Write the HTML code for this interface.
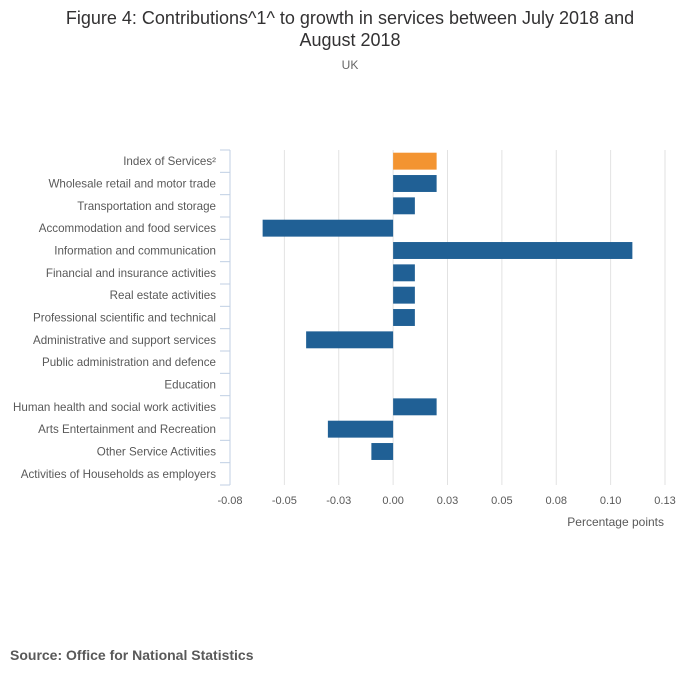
<!DOCTYPE html>
<html><head><meta charset="utf-8"><style>
body{margin:0;background:#fff;font-family:"Liberation Sans","DejaVu Sans",sans-serif;}
svg text{font-family:"Liberation Sans","DejaVu Sans",sans-serif;}
</style></head><body>
<svg id="c" width="700" height="682">
<text x="350" y="24" text-anchor="middle" font-size="18" fill="#323132">Figure 4: Contributions^1^ to growth in services between July 2018 and</text>
<text x="350" y="46" text-anchor="middle" font-size="18" fill="#323132">August 2018</text>
<text x="350" y="69" text-anchor="middle" font-size="12" fill="#666">UK</text>
<text x="664" y="526" text-anchor="end" font-size="12" fill="#595959">Percentage points</text>
<text x="10" y="660" font-size="14" font-weight="bold" fill="#595959">Source: Office for National Statistics</text>
<g id="plot"></g>
</svg>
<script>
const categories=["Index of Services²","Wholesale retail and motor trade","Transportation and storage","Accommodation and food services","Information and communication","Financial and insurance activities","Real estate activities","Professional scientific and technical","Administrative and support services","Public administration and defence","Education","Human health and social work activities","Arts Entertainment and Recreation","Other Service Activities","Activities of Households as employers"];
const values=[0.02,0.02,0.01,-0.06,0.11,0.01,0.01,0.01,-0.04,0,0,0.02,-0.03,-0.01,0];
const ticks=[-0.075,-0.05,-0.025,0,0.025,0.05,0.075,0.1,0.125];
const tickLabels=["-0.08","-0.05","-0.03","0.00","0.03","0.05","0.08","0.10","0.13"];
const NS="http://www.w3.org/2000/svg";
const g=document.getElementById('plot');
const x0=230,x1=665,dmin=-0.075,dmax=0.125,yTop=150,yBot=485;
const xs=v=>x0+(v-dmin)/(dmax-dmin)*(x1-x0);
const rh=(yBot-yTop)/categories.length;
const ys=i=>yTop+i*rh;
function el(t,a){const e=document.createElementNS(NS,t);for(const k in a)e.setAttribute(k,a[k]);g.appendChild(e);return e;}
ticks.forEach((t,i)=>{
 if(i>0){const l=el('line',{x1:xs(t),x2:xs(t),y1:yTop,y2:yBot,stroke:'#e2e2e2','stroke-width':1});
 
 }
 const tx=el('text',{x:xs(t),y:yBot+19,'text-anchor':'middle','font-size':11,fill:'#595959'});
 tx.textContent=tickLabels[i];
 
 
});
const ax=el('line',{x1:x0,x2:x0,y1:yTop,y2:yBot,stroke:'#c0cfe3','stroke-width':1});


for(let i=0;i<=categories.length;i++){
 const tk=el('line',{x1:x0-10,x2:x0,y1:ys(i),y2:ys(i),stroke:'#c0cfe3','stroke-width':1});
 
 
}
categories.forEach((c,i)=>{
 const tx=el('text',{x:216,y:ys(i)+rh/2+4,'text-anchor':'end','font-size':11.6,fill:'#595959'});
 tx.textContent=c;
 
 
 const v=values[i];
 if(v!==0){
  const a=xs(Math.min(0,v)),b=xs(Math.max(0,v));
  const r=el('rect',{x:a,y:ys(i)+2.7,width:b-a,height:rh-5.4,fill:i===0?'#f39431':'#206095'});
  
  
 }
});
</script>
</body></html>
